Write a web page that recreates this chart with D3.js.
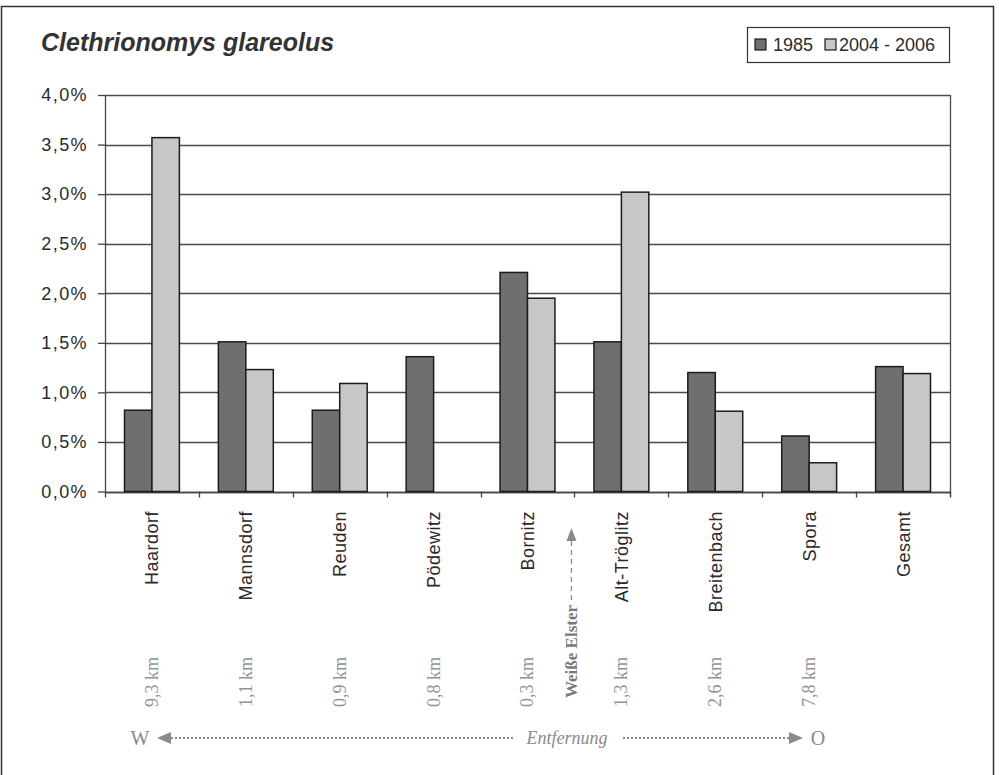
<!DOCTYPE html>
<html lang="de">
<head>
<meta charset="utf-8">
<title>Clethrionomys glareolus</title>
<script src="https://cdn.jsdelivr.net/npm/d3@7/dist/d3.min.js"></script>
<style>
  html, body { margin: 0; padding: 0; background: #fff; }
  svg { display: block; }
</style>
</head>
<body>
<script>
// Fundorte (West → Ost) und Anteile in Prozent
const categories = ["Haardorf", "Mannsdorf", "Reuden", "Pödewitz", "Bornitz", "Alt-Tröglitz", "Breitenbach", "Spora", "Gesamt"];
const series = ["1985", "2004 - 2006"];
const values1985 = [0.82, 1.51, 0.82, 1.36, 2.21, 1.51, 1.20, 0.56, 1.26];
const values2004 = [3.57, 1.23, 1.09, 0, 1.95, 3.02, 0.81, 0.29, 1.19];
const distances = ["9,3 km", "1,1 km", "0,9 km", "0,8 km", "0,3 km", "1,3 km", "2,6 km", "7,8 km", ""];
const yTicks = [0, 0.5, 1, 1.5, 2, 2.5, 3, 3.5, 4];

const W = 999, H = 775;
const plot = { left: 105, right: 950, top: 95, bottom: 491.5 };
const colors = ["#6f6f6f", "#c7c7c7"];
const ink = "#2a2a2a";
const grey = "#8a8a8a";

const de = d3.formatLocale({ decimal: ",", thousands: ".", grouping: [3], currency: ["", " €"] });
const pct = d => de.format(".1f")(d) + "%";

const svg = d3.select("body").append("svg")
  .attr("width", W).attr("height", H)
  .attr("font-family", "'Liberation Sans', Arial, sans-serif");

// äußerer Rahmen
svg.append("path")
  .attr("d", `M1.5,${H} V6.5 H993.5 V${H}`)
  .attr("fill", "none").attr("stroke", "#333").attr("stroke-width", 1.5);

// Titel
svg.append("text")
  .attr("x", 41).attr("y", 51)
  .attr("font-size", 25).attr("font-weight", "bold").attr("font-style", "italic")
  .attr("fill", "#333")
  .text("Clethrionomys glareolus");

// Skalen
const x = d3.scaleBand().domain(categories).range([plot.left, plot.right]).paddingInner(0).paddingOuter(0);
const xSub = d3.scaleBand().domain(series).range([0, x.bandwidth()]).paddingInner(0).paddingOuter(0.71);
const y = d3.scaleLinear().domain([0, 4]).range([plot.bottom, plot.top]);

// Gitternetz
svg.append("g").selectAll("line").data(yTicks).join("line")
  .attr("x1", plot.left).attr("x2", plot.right)
  .attr("y1", d => Math.round(y(d)) + 0.5).attr("y2", d => Math.round(y(d)) + 0.5)
  .attr("stroke", "#4a4a4a").attr("stroke-width", 1.3);

// rechter Rand der Zeichenfläche
svg.append("line")
  .attr("x1", plot.right + 0.5).attr("x2", plot.right + 0.5)
  .attr("y1", plot.top).attr("y2", plot.bottom + 5)
  .attr("stroke", "#4a4a4a").attr("stroke-width", 1.3);

// Y-Achse
const yAxis = svg.append("g")
  .attr("transform", `translate(${plot.left},0)`)
  .call(d3.axisLeft(y).tickValues(yTicks).tickFormat(pct).tickSizeInner(7).tickSizeOuter(0).tickPadding(10));
yAxis.select(".domain").attr("stroke", "#444").attr("stroke-width", 1.3);
yAxis.selectAll(".tick line").attr("stroke", "#444").attr("stroke-width", 1.3);
yAxis.selectAll(".tick text")
  .attr("font-size", 18).attr("letter-spacing", 1.4).attr("fill", ink)
  .attr("font-family", "'Liberation Sans', Arial, sans-serif");

// X-Achse mit Teilstrichen an den Kategoriegrenzen
const bounds = categories.map(c => x(c)).concat([plot.right]);
svg.append("line")
  .attr("x1", plot.left).attr("x2", plot.right)
  .attr("y1", Math.round(plot.bottom) + 0.5).attr("y2", Math.round(plot.bottom) + 0.5)
  .attr("stroke", "#444").attr("stroke-width", 1.3);
svg.append("g").selectAll("line").data(bounds).join("line")
  .attr("x1", d => Math.round(d) + 0.5).attr("x2", d => Math.round(d) + 0.5)
  .attr("y1", plot.bottom).attr("y2", plot.bottom + 6)
  .attr("stroke", "#444").attr("stroke-width", 1.3);

// Balken
const rows = categories.map((c, i) => ({ cat: c, vals: [values1985[i], values2004[i]] }));
const groups = svg.append("g").selectAll("g").data(rows).join("g")
  .attr("transform", d => `translate(${x(d.cat)},0)`);
groups.selectAll("rect")
  .data(d => d.vals.map((v, k) => ({ key: series[k], v, k })).filter(e => e.v > 0))
  .join("rect")
  .attr("x", e => xSub(e.key))
  .attr("width", xSub.bandwidth())
  .attr("y", e => y(e.v))
  .attr("height", e => y(0) - y(e.v))
  .attr("fill", e => colors[e.k])
  .attr("stroke", "#1c1c1c").attr("stroke-width", 1.5);

// Kategorienamen (senkrecht)
svg.append("g").selectAll("text").data(categories).join("text")
  .attr("transform", d => `translate(${x(d) + x.bandwidth() / 2},511) rotate(-90)`)
  .attr("text-anchor", "end").attr("dy", "0.36em")
  .attr("font-size", 18).attr("letter-spacing", 0.5).attr("fill", ink)
  .text(d => d);

// Entfernungen
svg.append("g").selectAll("text").data(categories.map((c, i) => ({ c, t: distances[i] })).filter(d => d.t)).join("text")
  .attr("transform", d => `translate(${x(d.c) + x.bandwidth() / 2},657) rotate(-90)`)
  .attr("text-anchor", "end").attr("dy", "0.33em")
  .attr("font-family", "'Liberation Serif', 'Times New Roman', serif")
  .attr("font-size", 18).attr("fill", "#939393")
  .text(d => d.t);

// Weiße Elster mit gestricheltem Pfeil (zwischen Bornitz und Alt-Tröglitz)
const riverX = x("Alt-Tröglitz") - 3;
svg.append("text")
  .attr("transform", `translate(${riverX},698) rotate(-90)`)
  .attr("text-anchor", "start").attr("dy", "0.33em")
  .attr("font-family", "'Liberation Serif', 'Times New Roman', serif")
  .attr("font-size", 17).attr("font-weight", "bold").attr("fill", "#7a7a7a")
  .text("Weiße Elster");
svg.append("line")
  .attr("x1", riverX).attr("x2", riverX).attr("y1", 600).attr("y2", 540)
  .attr("stroke", grey).attr("stroke-width", 1.3).attr("stroke-dasharray", "5,4");
svg.append("path")
  .attr("d", `M${riverX},528 L${riverX - 5},541 L${riverX + 5},541 Z`)
  .attr("fill", grey);

// Entfernungspfeil W ↔ O
const ay = 738;
svg.append("text")
  .attr("x", 140).attr("y", ay + 7).attr("text-anchor", "middle")
  .attr("font-family", "'Liberation Serif', 'Times New Roman', serif")
  .attr("font-size", 20).attr("fill", grey).text("W");
svg.append("path")
  .attr("d", `M157,${ay} L171,${ay - 6} L171,${ay + 6} Z`).attr("fill", grey);
svg.append("line")
  .attr("x1", 171).attr("x2", 513).attr("y1", ay).attr("y2", ay)
  .attr("stroke", grey).attr("stroke-width", 2).attr("stroke-dasharray", "2,2");
svg.append("text")
  .attr("x", 567).attr("y", ay + 6).attr("text-anchor", "middle")
  .attr("font-family", "'Liberation Serif', 'Times New Roman', serif")
  .attr("font-style", "italic").attr("font-size", 18).attr("fill", grey)
  .text("Entfernung");
svg.append("line")
  .attr("x1", 623).attr("x2", 789).attr("y1", ay).attr("y2", ay)
  .attr("stroke", grey).attr("stroke-width", 2).attr("stroke-dasharray", "2,2");
svg.append("path")
  .attr("d", `M803,${ay} L789,${ay - 6} L789,${ay + 6} Z`).attr("fill", grey);
svg.append("text")
  .attr("x", 818).attr("y", ay + 7).attr("text-anchor", "middle")
  .attr("font-family", "'Liberation Serif', 'Times New Roman', serif")
  .attr("font-size", 20).attr("fill", grey).text("O");

// Legende
const lg = svg.append("g");
lg.append("rect")
  .attr("x", 747.5).attr("y", 27.5).attr("width", 202).attr("height", 35)
  .attr("fill", "#fff").attr("stroke", "#333").attr("stroke-width", 1.2);
const legendItems = [
  { label: series[0], sx: 755, tx: 773 },
  { label: series[1], sx: 825, tx: 839 }
];
lg.selectAll("rect.sw").data(legendItems).join("rect")
  .attr("class", "sw")
  .attr("x", d => d.sx).attr("y", 39).attr("width", 11).attr("height", 11)
  .attr("fill", (d, i) => colors[i]).attr("stroke", "#1c1c1c").attr("stroke-width", 1.2);
lg.selectAll("text").data(legendItems).join("text")
  .attr("x", d => d.tx).attr("y", 51)
  .attr("font-size", 18).attr("fill", ink)
  .text(d => d.label);
</script>
</body>
</html>
